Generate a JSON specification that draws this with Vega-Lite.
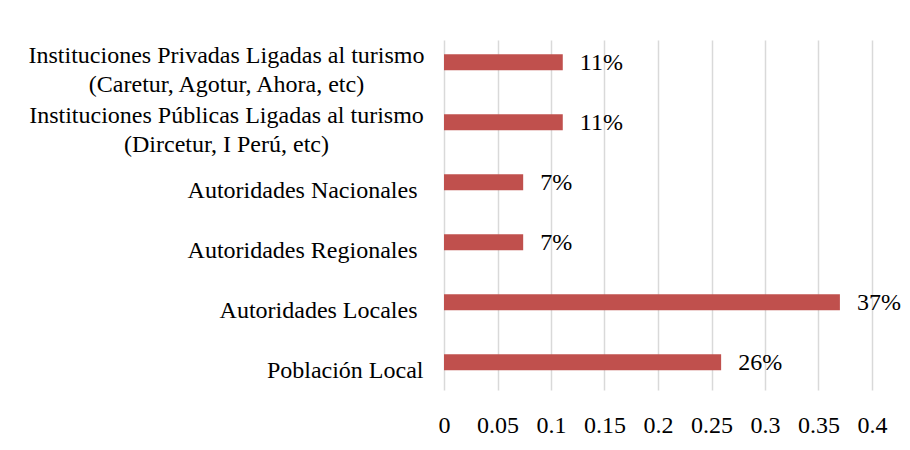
{
  "$schema": "https://vega.github.io/schema/vega-lite/v6.json",
  "autosize": {"type": "none"},
  "width": 428,
  "height": 350,
  "padding": {"left": 444, "top": 40, "right": 38, "bottom": 60},
  "background": "white",
  "config": {
    "view": {"stroke": null},
    "font": "Liberation Serif"
  },
  "data": {
    "values": [
      {"categoria": "Instituciones Privadas Ligadas al turismo|(Caretur, Agotur, Ahora, etc)", "valor": 0.111},
      {"categoria": "Instituciones Públicas Ligadas al turismo|(Dircetur, I Perú, etc)", "valor": 0.111},
      {"categoria": "Autoridades Nacionales", "valor": 0.074},
      {"categoria": "Autoridades Regionales", "valor": 0.074},
      {"categoria": "Autoridades Locales", "valor": 0.37},
      {"categoria": "Población Local", "valor": 0.259}
    ]
  },
  "encoding": {
    "y": {
      "field": "categoria",
      "type": "nominal",
      "sort": null,
      "scale": {"paddingInner": 0.733, "paddingOuter": 0.283, "align": 0.42},
      "axis": {
        "title": null,
        "domain": false,
        "ticks": false,
        "labelFont": "Liberation Serif",
        "labelFontSize": 24,
        "labelColor": "#000000",
        "labelLimit": 0,
        "labelLineHeight": 29,
        "labelOffset": {"condition": {"test": "indexof(datum.value, '|') >= 0", "value": -6}, "value": 9},
        "labelExpr": "split(datum.label, '|')",
        "labelAlign": {"condition": {"test": "indexof(datum.value, '|') >= 0", "value": "center"}, "value": "right"},
        "labelPadding": {"condition": [
          {"test": "indexof(datum.value, '|') >= 0", "value": 218},
          {"test": "indexof(datum.value, 'Autoridades') >= 0", "value": 27}
        ], "value": 21}
      }
    },
    "x": {
      "field": "valor",
      "type": "quantitative",
      "scale": {"domain": [0, 0.4], "nice": false},
      "axis": {
        "title": null,
        "values": [0, 0.05, 0.1, 0.15, 0.2, 0.25, 0.3, 0.35, 0.4],
        "labelExpr": "format(datum.value, '~g')",
        "domain": false,
        "ticks": false,
        "grid": true,
        "gridColor": "#d9d9d9",
        "gridWidth": 1.5,
        "labelFont": "Liberation Serif",
        "labelFontSize": 24,
        "labelColor": "#000000",
        "labelPadding": 23,
        "labelFlush": false
      }
    }
  },
  "layer": [
    {"mark": {"type": "bar", "color": "#C0504D"}},
    {
      "mark": {"type": "text", "align": "left", "baseline": "middle", "dx": 17, "dy": 1, "font": "Liberation Serif", "fontSize": 24, "color": "#000000"},
      "encoding": {"text": {"field": "valor", "type": "quantitative", "format": ".0%"}}
    }
  ]
}
